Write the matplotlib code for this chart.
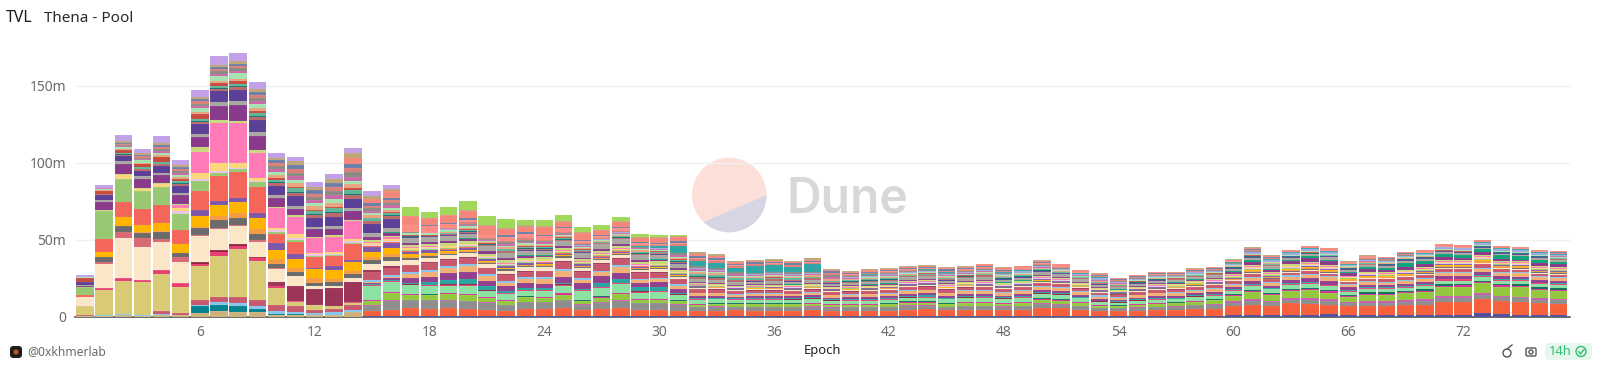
import numpy as np
import matplotlib
matplotlib.use("Agg")
import matplotlib.pyplot as plt
from matplotlib.patches import Circle, Polygon, FancyBboxPatch

plt.rcParams['font.family'] = ['Noto Sans', 'DejaVu Sans']

epochs = list(range(78))
tick_epochs = [6, 12, 18, 24, 30, 36, 42, 48, 54, 60, 66, 72]
y_ticks = [0, 50, 100, 150]
y_labels = ['0', '50m', '100m', '150m']

# values in millions, bottom of the stack first
indigo_base = [0]*15 + [.2,.2,.2,.2,.3,.2,.2,.2,.3,.2,.2,.2,.2,.3,.2,.2,.2] + [.3,.3,.2,.2,.2,.2,.2,.2,.2,.2,.2,.3,.3,.2,.2,.3,.3,.4,.5,.4,.3,.2,.2,.2,.3,.3,.4,.4] + [1,1.2,.9,1,1.2,1.6,.8,1.2,1,1,1,1.2,1.2,2.2,1.7,1,.9,.9]
orange_red = [0]*15 + [3.2,4.3,5.2,4.6,5.2,4.7,4.4,3.7,4.7,4.6,5.4,3.9,5,5.4,4.4,4.2,3.6] + [3.5,3.6,3.9,3.7,3.8,3.6,4,3.6,3.7,3.7,3.8,4.3,4.4,4,4.3,4.2,3.9,4,5,5,4.2,3.4,3.5,3.6,3.9,3.9,4.6,4.8] + [5.8,6.7,6.3,7.6,7.2,6.3,6,5.8,6,6.3,6.9,8.4,8.4,9,8.2,8.4,7.8,7.4]
tan = [.2,.5,1,.6,1,.8,2.6,3.4,2.8,3,1,1,.8,1,3] + [0]*63
gray_mid = [0]*15 + [3.7,6,5.4,5.8,5,5.2,4.6,3.7,4.6,4.6,5,3.7,4,4.8,4.4,4.4,4] + [2.4,2.4,2.2,2.2,2.2,2.2,2.3,2.1,2.1,2.1,2.2,2.4,2.3,2.1,2.2,2.3,2.2,2.3,2.6,2.5,2.2,1.9,1.7,2,2,2.2,2.4,2.4] + [2.3,2.6,2.3,2.4,2.6,2.4,2,2.1,2.1,2.3,2.3,2.6,2.7,2.7,2.6,2.6,2.4,2.3]
orchid = [0]*15 + [.2,.3,.3,.2,.3,.3,.2,.3,.2,.3,.3,.2,.3,.3,.2,.3,.2] + [.3,.4,.3,.3,.4,.3,.4,.3,.3,.4,.3,.4,.4,.3,.4,.4,.3,.4,.5,.4,.4,.3,.3,.3,.4,.4,.4,.5] + [.8,1.1,.9,1,1.1,1,.8,.9,.9,1,1,1.2,1.2,1.2,1.1,1.1,1,1]
lime = [0]*15 + [2.8,4.3,3,3,3.7,3.7,2.6,2.2,2.8,2.6,3.5,2,2.8,4,1.8,1.8,2] + [1.2,1.4,1.6,1.6,1.6,1.7,1.6,1.5,1.4,1.4,1.5,1.8,1.8,1.6,1.8,1.9,1.8,1.9,2.4,2.2,1.8,1.2,1.1,1.6,1.7,1.8,2,2.6] + [3.4,4.4,3.8,4.4,5,4.4,3.4,4.4,4.4,4.6,5,6,6,6.5,6,6.2,5.4,5.4]
teal_deep = [0,0,0,0,0,0,4.3,4,4.3,2,.5,.5,.3,.3,.3] + [0]*63
sky_low = [0,.4,.5,.4,.8,.4,1,2,2,2,2,1.3,1.5,1.5,1] + [0]*63
rose_low = [1,.4,.5,.3,2,1,3.2,3.7,3.9,3.7,4.3,3.9,2,2,3.2] + [0]*63
magenta_strip = [0,0,0,0,0,0,0,0,0,0,0,0,0,0,.4] + [.6,.7,.6,.5,.6,.7,.5,.6,.5,.6,.7,.5,.6,.7,.5,.6,.5] + [.4,.4,.3,.4,.3,.4,.4,.3,.3,.4,.3,.4,.4,.3,.4,.4,.3,.4,.5,.4,.4,.3,.3,.3,.4,.4,.4,.4] + [.6,.7,.6,.7,.7,.7,.5,.6,.6,.6,.7,.8,.8,.8,.7,.7,.6,.6]
khaki = [5.6,16,21,21,24,17,21.6,26.4,31,25.3,10.8,3,2.8,2,1] + [0]*63
dark_green = [0]*15 + [.2,.2,.2,.2,.3,.2,.2,.2,.3,.2,.2,.2,.3,.2,.2,.2,.2] + [.3,.3,.2,.3,.3,.2,.3,.2,.3,.3,.3,.3,.4,.3,.4,.3,.3,.3,.4,.4,.3,.3,.2,.3,.3,.3,.3,.4] + [.6,.9,.7,1,1,1.1,.7,.9,.8,.8,.9,1,1,1.1,.9,1,.9,.8]
mint = [0]*15 + [9,6.5,5.4,5.4,4.8,5.2,3.9,3.7,3.5,3.7,4.8,6,5.4,5.4,3.9,4.3,3.2] + [2.6,2.4,2.2,2.2,2.2,2.2,2.2,2,2,2,2.2,2.2,2.4,2.4,2.3,2.4,2.2,2.4,2.6,2.6,2.3,1.9,1.7,1.9,2,2,2,2] + [2.2,2.6,2.2,2.6,2.4,2.3,2,2.2,2.2,2.2,2.2,2.2,2.2,2.2,2.2,2.2,2.2,2.2]
crimson = [0,1.2,2,1.7,2.6,2.6,1.8,2.2,2,1.8,1.2,.5,.3,.3,.8] + [.6,.5,.5,.4,.6,.5,.4,.5,.4,.5,.6,.4,.5,.6,.4,.5,.4] + [.4,.3,.3,.4,.3,.3,.4,.3,.3,.3,.4,.3,.4,.3,.4,.4,.3,.4,.4,.4,.3,.3,.2,.3,.3,.3,.4,.4] + [.6,.7,.6,.7,.7,.6,.6,.6,.6,.6,.6,.8,.8,.8,.7,.7,.6,.6]
dark_red = [0,0,0,0,0,0,1.2,1.5,1.5,1,1,0,0,0,0] + [.3,.3,.3,.3,.3,.4,.2,.3,.3,.2,.3,.2,.3,.3,.4,.3,.2] + [.2,.2,.2,.2,.2,.3,.2,.2,.3,.2,.2,.3,.3,.2,.3,.2,.3,.3,.2,.3,.2,.2,.2,.2,.3,.2,.3,.2] + [0]*18
teal_mid = [0]*15 + [.3,.3,.9,1.7,2.8,3.2,2.6,1,1,1,1,.8,2.6,2.2,2.6,2.6,1] + [.7,.6,.5,.6,.6,.5,.6,.5,.5,.6,.6,.7,.7,.6,.7,.7,.6,.7,.8,.8,.6,.5,.5,.5,.6,.6,.7,.7] + [.4,.4,.4,.4,.4,.4,.3,.4,.4,.4,.4,.4,.4,.5,.4,.4,.4,.4]
plum_low = [0]*15 + [1,1.5,3,3.7,4.6,4.6,3.7,3.5,3.5,3,4,3.5,4.3,4.3,3,3,2.5] + [1.4,1.4,1.2,1.2,1.3,1.3,1.3,1.1,1.1,1.2,1.2,1.3,1.3,1.2,1.3,1.3,1.2,1.3,1.3,1.3,1.2,1,1,1.1,1.2,1.2,1.3,1.3] + [1.5,2,1.5,2.2,2.8,2.6,2,1.5,1.5,1.7,1.7,1.8,1.8,2,1.8,1.8,1.7,1.7]
peach = [0]*15 + [.6,.8,2.6,3,3,3.7,3.2,2.2,2.4,3.2,3.5,2.5,2.6,4,1.8,1.8,2.2] + [1.5,1.4,1.3,1.3,1.3,1.3,1.5,1.6,1.7,1.7,1.8,2,2,1.8,1.9,1.8,2,2,2,1.9,1.8,1.6,1.4,1.6,1.7,1.7,1.8,1.8] + [1.7,2.1,1.8,2,2.1,2.1,1.5,1.7,1.7,1.8,2,2,2,2.1,2,2,1.8,1.8]
sky_mid = [0]*15 + [.9,.9,1.5,1.5,1.3,1.5,1.3,1.2,1.3,1.2,1.3,1,1.1,1,1,1,.8] + [.5,.5,.4,.5,.4,.5,.4,.4,.5,.4,.4,.5,.5,.4,.5,.5,.4,.5,.6,.5,.5,.7,.6,.5,.5,.5,.5,.6] + [.6,.7,.6,.8,.8,.8,.6,.6,.6,.7,.7,.7,.7,.8,.7,.7,.6,.6]
rose_mid = [0]*15 + [5.4,5,4.2,4.3,3.9,4.3,3.5,3.7,3.5,3.7,4.8,4,4.3,4,3.5,3.5,3.2] + [2,1.9,1.7,1.8,1.8,1.7,1.8,1.6,1.6,1.6,1.7,1.8,2,1.8,1.8,1.9,1.8,1.8,2,2,1.8,1.6,1.4,1.6,1.7,1.7,1.8,1.9] + [1.5,1.8,1.6,1.7,1.7,1.7,1.4,1.5,1.5,1.7,1.7,1.8,1.8,2,1.7,1.7,1.7,1.6]
maroon = [0,0,0,0,0,0,0,0,0,0,1.5,9.5,10.6,11.3,12.6] + [1.2,.8,.5,.4,.5,.4,.4,.5,.4,.4,.5,.4,.5,.4,.6,.6,.5] + [.4,.3,.3,.3,.3,.3,.3,.3,.3,.3,.3,.4,.5,.3,.3,.3,.3,.3,.3,.3,.3,.3,.2,.3,.3,.3,.3,.3] + [0]*18
cream = [5.8,16,26,21.4,18.4,14,16.5,13.9,11.7,10,8.7,7,1.7,1.5,3] + [4.3,3.7,3.2,3,3,2.6,2.4,2.4,2.4,2.4,2.2,2.2,1.8,2,1.6,1.6,1] + [.7,.7,.6,.6,.6,.6,.6,.6,.5,.5,.6,.6,.6,.6,.6,.6,.6,.6,.7,.6,.6,.5,.5,.5,.6,.6,.6,.6] + [.6,.7,.6,.7,.7,.7,.5,.6,.6,.6,.6,.7,.7,.7,.7,.7,.6,.6]
rose_pale = [0,1.2,3.7,6,1.7,3.2,1,.8,.6,1,.3,0,0,0,0] + [0]*63
gray_dark = [0,3,3.9,3.2,4.8,2.2,4.3,4.8,4.3,4.1,3.2,2.6,2.2,2.4,2.2] + [2.2,2.2,1,1,.8,.8,.8,.8,.8,.8,.8,.7,.8,.8,.6,.6,.6] + [.4,.4,.4,.3,.4,.3,.4,.3,.3,.4,.3,.4,.4,.3,.4,.4,.3,.4,.4,.4,.3,.3,.3,.3,.4,.4,.4,.4] + [.3,.4,.3,.4,.4,.4,.3,.3,.3,.3,.4,.4,.4,.5,.4,.4,.3,.3]
orange = [0,0,.5,.4,.5,.3,1,3,3.2,3,3,2.4,3,2.4,2] + [2,2,1,1,.5,.5,.4,.4,.4,.4,.4,.4,.4,.4,.3,.3,.3] + [.2,.2,.2,.2,.2,.2,.2,.2,.2,.2,.3,.3,.2,.2,.2,.3,.2,.2,.3,.3,.2,.2,.2,.2,.2,.2,.3,.3] + [.6,.8,.7,.8,.9,.8,.6,.8,.7,.8,.8,1,1,1.1,.9,.9,.8,.8]
amber = [0,3.4,5.4,4.3,5.2,5.4,7,6.9,7.4,7,6,6,5.6,5.8,6] + [3.2,3.9,1.6,1.4,1,.8,.5,.5,.4,.4,.5,.4,.4,.4,.3,.3,.3] + [.2,.1,.1,.1,.2,.1,.1,.1,.2,.1,.1,.1,.2,.1,.1,.2,.1,.1,.2,.1,.1,.1,.1,.1,.1,.2,.1,.1] + [.3,.3,.3,.3,.4,.3,.3,.3,.3,.3,.3,.4,.4,.4,.3,.3,.3,.3]
purple = [0,0,0,0,0,0,3.5,2.6,2.4,3.5,4.3,3,1,2.2,1.2] + [3.2,3.2,1.5,1.5,1,1.4,1.2,1.2,1,.9,.9,.9,.8,.7,.7,.6,.6] + [.4,.4,.4,.3,.4,.4,.4,.3,.3,.4,.3,.4,.4,.3,.4,.4,.4,.4,.5,.4,.4,.3,.3,.3,.4,.4,.4,.4] + [.4,.5,.4,.5,.5,.5,.3,.4,.4,.4,.5,.5,.5,.5,.5,.5,.4,.4]
coral = [1.7,8.4,10,10.8,11.3,9.7,12.3,16.2,17,17,6,7.8,7,6.5,10.8] + [.6,.6,.5,.5,.5,.4,.4,.4,.4,.4,.4,.3,.4,.4,.3,.3,.3] + [0]*46
sage = [4.7,18.4,15,11.5,12,10,6.5,2,1.5,3.2,1,1,.6,.6,.5] + [.5,.6,.5,.5,.5,.6,.5,.4,.5,.4,.5,.4,.5,.5,.4,.4,.4] + [.3,.3,.3,.3,.3,.3,.3,.2,.3,.3,.3,.3,.3,.3,.3,.3,.3,.3,.4,.3,.3,.3,.2,.3,.3,.3,.3,.3] + [.4,.5,.4,.5,.5,.5,.4,.4,.4,.4,.5,.5,.5,.5,.5,.5,.4,.4]
lilac = [0,0,0,0,0,2.2,1.7,1.5,1,.6,1.5,1.5,1,1,1] + [.4,.5,.4,.4,.4,.4,.4,.4,.3,.4,.4,.3,.4,.4,.3,.3,.3] + [.3,.2,.2,.2,.2,.3,.2,.2,.2,.2,.3,.2,.3,.2,.2,.3,.2,.2,.3,.3,.2,.2,.2,.2,.2,.3,.3,.3] + [.4,.5,.4,.4,.5,.5,.4,.4,.4,.4,.4,.5,.5,.5,.4,.4,.4,.4]
pale_amber = [0,0,2.8,1.5,1.7,1.7,4,5,3.2,2,1.5,3,1,1.5,1.5] + [1.2,1.2,.8,.8,.7,.6,.6,.5,.6,.6,.5,.5,.5,.5,.4,.4,.4] + [.3,.3,.3,.3,.3,.3,.3,.3,.2,.3,.3,.3,.3,.3,.3,.3,.3,.3,.3,.3,.3,.3,.2,.3,.3,.3,.3,.3] + [.5,.6,.5,.5,.6,.6,.4,.5,.5,.5,.5,.6,.6,.6,.5,.5,.5,.5]
hotpink = [0,0,0,0,0,2.2,13.6,26,26,16,12.5,10.8,9.7,9.5,11.7] + [1,1,.8,.6,.6,.6,.5,.5,.5,.4,.5,.4,.4,.4,.4,.4,.3] + [.3,.3,.3,.3,.3,.3,.3,.2,.3,.3,.3,.3,.3,.3,.3,.3,.3,.3,.4,.3,.3,.3,.2,.3,.3,.3,.3,.3] + [.5,.6,.5,.6,.6,.6,.4,.5,.5,.5,.6,.6,.6,.6,.5,.5,.5,.5]
yellow_green = [.3,.5,.5,.5,.5,.5,3,1.7,1.5,2,1,1,.8,1,.8] + [1,1,1.2,1.2,1.4,1.5,1.4,1.6,1.4,1.4,1.2,1.2,1.3,1.4,1.4,1.4,1.4] + [.8,.7,.6,.7,.7,.6,.7,.6,.7,.7,.7,.8,.7,.7,.7,.8,.7,.7,.8,.7,.7,.6,.5,.6,.7,.7,.7,.7] + [.6,.7,.6,.7,.7,.7,.5,.6,.6,.6,.7,.7,.7,.8,.7,.7,.6,.6]
plum = [.6,5.2,6.5,6,5.4,5.6,6.5,9,10,9,5.8,4.3,5,4.3,5.8] + [2,2,1.5,1.5,1.6,1.6,1.5,1.3,1.3,1.2,1.3,1.1,1.2,1.3,1.1,1.1,1] + [.6,.6,.5,.6,.6,.5,.6,.5,.5,.6,.6,.6,.6,.5,.6,.6,.5,.6,.7,.6,.6,.5,.4,.5,.6,.6,.6,.7] + [1.2,2,1.5,2,2.6,2.4,1.6,1.8,1.6,2,2,2,1.5,1.7,1.4,1.2,1.8,1.8]
emerald = [0]*15 + [.1,.2,.2,.1,.2,.2,.1,.2,.1,.2,.2,.1,.2,.2,.1,.2,.1] + [.2,.2,.2,.2,.1,.2,.2,.2,.2,.2,.2,.3,.3,.2,.2,.3,.3,.2,.3,.3,.2,.2,.2,.2,.2,.2,.3,.3] + [.8,1,.8,1,1,1,.8,1,1,2.4,1.6,1.8,1.8,2,2.4,2.4,2.2,1.4]
gray_light = [.8,1.5,1.5,1.5,1.5,1.5,2,3,3,2.5,2,1.5,1.5,1.5,1.5] + [2.5,3,3,3,3,3,3,3,3,3,3,3,3,3,3,3,2.6] + [1.6,1.6,1.5,1.5,1.5,1.4,1.6,1.4,1.4,1.5,1.5,1.6,1.6,1.5,1.6,1.7,1.5,1.6,1.8,1.8,1.6,1.4,1.3,1.4,1.5,1.5,1.6,1.6] + [1.3,1.6,1.4,1.4,1.4,1.6,1.3,1.4,1.4,1.4,1.5,1.3,1.1,1.1,.9,.8,1.4,1.4]
indigo = [1.7,3.2,3.7,3.7,4.3,4.5,6.5,7,7,7.8,5.8,6.5,5.4,6,6] + [6,6,.6,.5,.5,.5,.5,.5,.4,.5,.4,.4,.4,.4,.4,.4,.4] + [.3,.3,.3,.3,.3,.4,.3,.3,.3,.3,.3,.3,.4,.3,.3,.3,.3,.3,.4,.3,.3,.3,.2,.3,.3,.3,.3,.3] + [.4,.5,.4,.5,.5,.5,.4,.4,.4,.4,.5,.5,.5,.5,.5,.5,.4,.4]
dark_teal = [.3,.4,.4,.4,.4,.4,.6,.7,.7,.6,.5,.5,.5,.5,.5] + [.4,.4,.3,.3,.3,.4,.3,.3,.3,.3,.3,.3,.3,.3,.4,.3,.3] + [.3,.3,.3,.2,.3,.3,.3,.2,.3,.3,.3,.3,.3,.3,.3,.3,.3,.3,.4,.3,.3,.2,.2,.3,.3,.3,.3,.3] + [.4,.5,.4,.4,.5,.5,.4,.4,.4,.4,.5,.5,.5,.5,.4,.4,.4,.4]
brick = [2.6,2,2,2,2.8,1.5,2.6,1.5,1.5,1.2,1,1,1,1,1] + [.4,.5,.4,.4,.4,.4,.4,.4,.3,.4,.4,.3,.4,.4,.3,.3,.3] + [.2,.2,.2,.2,.2,.2,.2,.2,.2,.2,.2,.2,.3,.2,.2,.2,.2,.2,.3,.3,.2,.2,.2,.2,.2,.2,.2,.2] + [.2,.3,.2,.3,.3,.3,.2,.2,.2,.2,.3,.3,.3,.3,.3,.3,.2,.2]
mint_pale = [.8,1.2,1.5,1.5,1.5,1.5,2.5,3.5,3.5,2.5,2.5,2,2,2.5,2] + [1.2,1.2,1,.9,.9,.9,.8,.8,.8,.8,.8,.8,.8,.7,.7,.7,.6] + [.5,.5,.4,.5,.5,.4,.5,.4,.4,.4,.5,.5,.5,.4,.5,.5,.4,.5,.5,.5,.4,.4,.4,.4,.5,.5,.5,.5] + [.6,.7,.6,.7,.7,.7,.6,.6,.6,.7,.7,.8,.8,.3,.7,.7,.6,.6]
periwinkle = [0]*15 + [.1,.1,.1,.2,.1,.1,.1,.2,.1,.1,.1,.2,.1,.1,.2,.1,.1] + [.4,.4,.4,.5,.5,.5,.5,.6,.6,.6,.6,.6,.7,.6,.6,.7,.6,.7,.7,.7,.9,1,.8,.8,.7,.7,.8,.9] + [.9,1.2,.9,1.2,1.4,1.3,.7,.9,.9,1,1,1,1.1,1.2,1,1,.9,.9]
teal_high = [0]*29 + [.6,.8,4.8] + [3.5,3.5,3,4.5,4,3.6,5.2,.4,.3,.4,.3,.3,.3,.3,.3,.3,.3,.4,.4,.4,.3,.3,.3,.3,.3,.3,.3,.3] + [.4,.4,.4,.4,.4,.4,.3,.4,.4,.4,.4,.4,.4,.5,.6,.6,.7,.6]
salmon_low = [0]*17 + [4.3,4.6,2.6,1.6,2,2.6,3,2.6,2.2,1.6,1.6,1.6,1,1,1] + [.8,.7,.5,.5,.5,.5,.5,.5,.5,.5,.5,.6,.6,.5,.6,.5,.5,.5,.6,.6,.5,.4,.3,.4,.5,.5,.5,.5] + [.5,.6,.5,.5,.6,.6,.4,.5,.5,.5,.5,.6,.6,.6,.5,.5,.5,.5]
salmon = [0,0,0,0,0,0,0,0,0,0,0,0,0,0,3.9] + [3,4.3,5.4,4.6,5,4.6,5.8,3.9,3.6,5,3.5,4.3,3.5,3.2,2.4,3,2.7] + [1.2,1,.8,.8,.8,.8,.8,.7,.8,.8,.8,.9,.9,.8,.9,.9,.8,.9,1,1,.8,.7,.6,.8,.8,.8,.9,.9] + [.8,1,.8,1,1,1,.8,.8,.8,.9,.9,1,1,1,.9,.9,.8,.8]
lavender = [1.2,1.5,3.9,2.8,4.8,3.2,4.5,5.8,5.4,4.3,3,3,3.2,2.8,3.5] + [3.2,2.6] + [0]*61
top_green = [0]*17 + [5.6,3.7,5.2,5.4,5.6,5.8,3.5,3.5,3.5,3.2,2.8,2.6,2.2,1.3,.6] + [0]*46
# thin bands above the indigo block
strip_1 = [0,.1,.7,1,1.3,1.4,1.5,1.5,1.7,2,1.8,2.4,2.2,2.6,2.8,1.6,1.7,.3,.1,.5,.9,.6,1,1,.8,.8,.7,.4,.6,.7,.6,1,1.4,1.2,1,.8,.9,.9,.8,.8,.5,.6,.6,.4,.4,.7,.5,.7,.6,.5,.4,.3,.3,.5,.4,.3,.3,.2,.2,.2,.3,.2,.4,0,0,.1,.2,.3,.2,.2,.1,0,0,0,0,0,.1,.2]
strip_2 = [0,.1,.6,.9,1.3,1.2,1.5,1.3,1.6,2,1.7,2.4,2,2.7,2.8,1.6,1.6,.3,.1,.5,.9,.5,.9,1,.8,.7,.8,.3,.6,.7,.6,1,1.3,1.3,1,.8,.9,.9,.7,.7,.6,.6,.6,.4,.4,.6,.5,.6,.5,.5,.4,.3,.3,.4,.4,.3,.3,.2,.2,.2,.2,.2,.4,0,0,.1,.2,.2,.2,.2,.1,0,0,0,0,0,.1,.2]
strip_3 = [0,.1,.7,.9,1.4,1.3,1.4,1.4,1.7,2.1,1.8,2.3,2.1,2.6,2.9,1.5,1.6,.3,.1,.6,.8,.5,1,1,.9,.7,.7,.3,.7,.7,.5,1,1.3,1.2,.9,.8,.9,.9,.7,.8,.5,.6,.7,.4,.3,.7,.4,.6,.6,.5,.3,.3,.3,.5,.5,.3,.2,.2,.3,.2,.3,.2,.4,0,0,.1,.3,.3,.2,.1,.1,0,0,0,0,0,.1,.2]
strip_4 = [0,.1,.6,.9,1.2,1.3,1.5,1.4,1.6,1.9,1.8,2.4,2.1,2.6,2.7,1.6,1.6,.3,.1,.5,.9,.5,1,1,.8,.7,.7,.3,.6,.7,.6,1,1.3,1.2,1,.8,.9,.9,.7,.8,.5,.6,.6,.4,.4,.7,.5,.6,.6,.6,.4,.3,.3,.5,.4,.3,.3,.2,.2,.2,.3,.2,.4,0,0,0,.2,.3,.2,.2,.1,0,0,0,0,0,.1,.2]
strip_5 = [0,.1,.7,.9,1.3,1.3,1.5,1.4,1.6,2,1.8,2.4,2.1,2.6,2.8,1.7,1.6,.3,.1,.5,.9,.5,1,1,.8,.7,.7,.4,.6,.7,.6,1.1,1.3,1.2,1,.9,.9,.9,.7,.8,.5,.5,.6,.4,.4,.7,.5,.6,.6,.5,.4,.3,.3,.5,.4,.3,.3,.2,.2,.2,.3,.3,.4,0,0,.1,.2,.3,.2,.2,.1,0,0,0,0,0,.1,.3]
strip_6 = [0,.1,.7,.9,1.3,1.3,1.6,1.4,1.6,2,1.8,2.5,2.1,2.6,2.8,1.6,1.6,.3,.1,.5,.9,.5,1,1.1,.8,.7,.7,.3,.6,.8,.6,1,1.3,1.2,1,.8,1,.9,.7,.8,.5,.6,.6,.5,.4,.7,.5,.6,.6,.5,.4,.3,.3,.5,.4,.3,.3,.3,.2,.2,.3,.2,.3,0,0,.1,.2,.3,.3,.2,.1,0,0,0,0,0,.1,.2]
strip_7 = [0,.1,.7,.9,1.3,1.3,1.5,1.4,1.6,2,1.9,2.4,2.1,2.7,2.8,1.6,1.7,.3,.1,.5,1,.5,1,.9,.8,.7,.7,.3,.6,.7,.6,1,1.4,1.3,1,.8,.8,.9,.7,.8,.5,.6,.6,.4,.4,.7,.5,.7,.6,.5,.4,.3,.2,.5,.4,.3,.3,.2,.2,.2,.3,.2,.4,0,0,.1,.2,.3,.2,.2,.2,0,0,0,0,0,.1,.2]
strip_8 = [0,.1,.7,.9,1.3,1.3,1.5,1.4,1.6,2,1.8,2.4,2.1,2.6,2.8,1.6,1.6,.3,.1,.5,.9,.5,1,1,.8,.7,.7,.3,.6,.7,.6,1,1.3,1.2,1,.8,.9,.9,.7,.8,.5,.6,.6,.4,.4,.7,.5,.6,.6,.5,.4,.3,.3,.5,.4,.3,.3,.2,.2,.2,.3,.2,.4,0,0,.1,.2,.3,.2,.2,.1,0,0,0,0,0,.1,.2]

stack = [indigo_base, orange_red, tan, gray_mid, orchid, lime, teal_deep, sky_low, rose_low,
         magenta_strip, khaki, dark_green, mint, crimson, dark_red, teal_mid, plum_low, peach,
         sky_mid, rose_mid, maroon, cream, rose_pale, gray_dark, orange, amber, purple, coral,
         sage, lilac, pale_amber, hotpink, yellow_green, plum, emerald, gray_light, indigo,
         strip_1, dark_teal, strip_2, brick, strip_3, mint_pale, strip_4, periwinkle, strip_5,
         teal_high, strip_6, salmon_low, strip_7, salmon, strip_8, lavender, top_green]
stack_colors = ['#50509e', '#f6603a', '#cdb27c', '#8e8e8e', '#c85bb0', '#93c83e', '#05838f', '#86c5ea', '#c9596f',
                '#d92a96', '#d9cb75', '#0f6f5a', '#8be2a2', '#e83e72', '#8f1f3a', '#2aa4a0', '#93408f', '#f2b077',
                '#88c4ec', '#c9586f', '#9c3559', '#fbe6c8', '#d66b74', '#6b6b6b', '#f59c42', '#ffb400', '#7f57a8', '#f4665a',
                '#98c972', '#e8c5e8', '#fbd67c', '#ff7ab6', '#c8d97a', '#8a3a8a', '#10a37a', '#a8a8a0', '#5c3f96',
                '#b96a6a', '#0e6f74', '#5fb59a', '#c84b3f', '#e8a47f', '#a6e3b0', '#c96aa8', '#9fa8e0', '#8a8a82',
                '#2fa5a5', '#d9807a', '#ff8d85', '#6d7fa8', '#f4877a', '#bfa678', '#c3a1e8', '#a0d95a']

W, H = 1600, 366
fig = plt.figure(figsize=(W / 100, H / 100), dpi=100, facecolor='white')

# overlay in pixel units, y measured up from the bottom of the image
bg = fig.add_axes([0, 0, 1, 1])
bg.set_xlim(0, W)
bg.set_ylim(0, H)
bg.axis('off')

ax = fig.add_axes([75 / W, (H - 316.7) / H, (1570 - 75) / W, (316.7 - 40) / H])
ax.patch.set_alpha(0)
ax.set_xlim((75 - 85) / 19.14, (1570 - 85) / 19.14)
ax.set_ylim(0, (316.7 - 40) / 1.54)

bottom = np.zeros(len(epochs))
for vals, c in zip(stack, stack_colors):
    ax.bar(epochs, vals, bottom=bottom, width=0.91, color=c, edgecolor=(1, 1, 1, 0.1), linewidth=0.3, zorder=3)
    bottom = bottom + np.array(vals)

ax.set_xticks(tick_epochs)
ax.set_yticks(y_ticks)
ax.set_yticklabels(y_labels)
ax.tick_params(length=0, labelsize=10, labelcolor='#6b6b6b')
ax.tick_params(axis='x', pad=6)
ax.tick_params(axis='y', pad=6.5)
for label in ax.get_yticklabels():
    label.set_verticalalignment('center_baseline')
for s in ax.spines.values():
    s.set_visible(False)
ax.grid(axis='y', color='#f0f0f0', linewidth=1, zorder=0)
ax.set_axisbelow(True)
ax.axhline(0, color='#444444', linewidth=1.1, zorder=2, clip_on=False)
ax.set_xlabel('Epoch', fontsize=9.3, fontweight='semibold', color='#222222')
ax.xaxis.set_label_coords((822 - 75) / (1570 - 75), -0.10)

# watermark
cx, cy, r = 729.3, H - 195, 37.3
disc = Circle((cx, cy), r, color='#fddfd9', lw=0)
bg.add_patch(disc)
low = Polygon([(680, H - 232), (780, H - 189.5), (780, H - 250), (680, H - 250)], color='#d5d5e3', lw=0)
bg.add_patch(low)
low.set_clip_path(disc)
bg.text(787, H - 212.7, 'Dune', fontsize=34.5, fontweight='semibold', color='#d8d8d8',
        family=['Inter', 'DejaVu Sans'], va='baseline', ha='left')

# header
bg.text(6, H - 18, 'TVL', fontsize=11.5, fontweight='bold', color='#1e1e1e', va='center')
bg.text(44, H - 18, 'Thena - Pool', fontsize=11, color='#2a2a2a', va='center')

# footer
bg.add_patch(FancyBboxPatch((10, H - 358), 12, 12, boxstyle='round,pad=0,rounding_size=3.5', color='#1d1d1b', lw=0))
bg.add_patch(Circle((16, H - 352), 2.6, color='#b4532a', lw=0))
bg.text(27, H - 352, '@0xkhmerlab', fontsize=8.7, color='#6b6b6b', va='center')

# small toolbar icons
bg.add_patch(Circle((1507, H - 353), 4, fill=False, ec='#555555', lw=1))
bg.plot([1507, 1512], [H - 349, H - 345], color='#555555', lw=1)
bg.add_patch(FancyBboxPatch((1526, H - 356), 10, 8, boxstyle='round,pad=0,rounding_size=1.5', fill=False, ec='#555555', lw=1))
bg.add_patch(Circle((1531, H - 352), 2, fill=False, ec='#555555', lw=1))
bg.add_patch(FancyBboxPatch((1545, H - 360), 47, 17, boxstyle='round,pad=0,rounding_size=4', color='#e6f8ee', lw=0))
bg.text(1549, H - 351.5, '14h', fontsize=9.3, color='#2fbf71', va='center')
bg.add_patch(Circle((1581, H - 351.5), 5, fill=False, ec='#2fbf71', lw=1))
bg.plot([1578.5, 1580.5, 1584], [H - 351.5, H - 354, H - 349.5], color='#2fbf71', lw=1)

fig.savefig('out.png', dpi=100)
